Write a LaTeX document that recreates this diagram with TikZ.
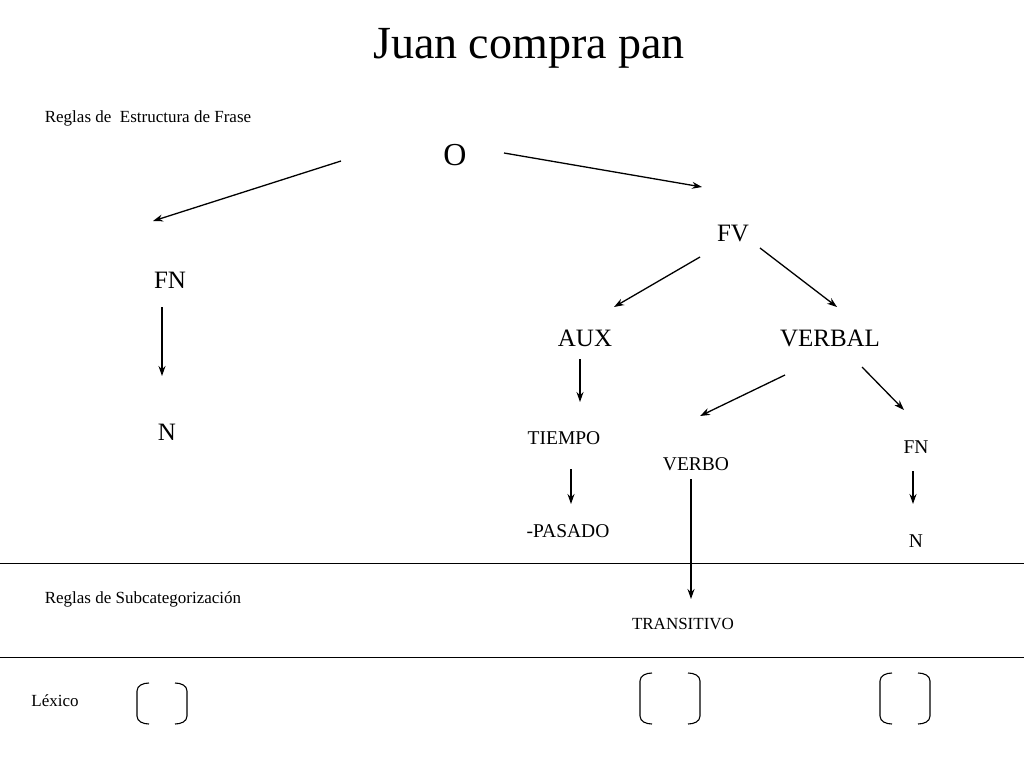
\documentclass[tikz,border=0pt]{standalone}
\usepackage{fontspec}
\setmainfont{Liberation Serif}
\usetikzlibrary{arrows.meta}
\begin{document}
\begin{tikzpicture}[x=1pt,y=-1pt,
  arr/.style={-{Stealth[length=10pt,width=7pt]},line width=1.3pt},
  big/.style={font=\fontsize{25}{27}\selectfont},
  mid/.style={font=\fontsize{19.5}{21}\selectfont},
  sml/.style={font=\fontsize{17}{19}\selectfont},
  brk/.style={line width=1.1pt}]
\useasboundingbox (0,0) rectangle (1024,768);
\node[font=\fontsize{46}{50}\selectfont] (t) at (529,48) {Juan compra pan};
\node[sml] (r1) at (148,118) {Reglas de\ \ Estructura de Frase};
\node[font=\fontsize{32}{34}\selectfont] (o) at (455,155) {O};
\node[big] (fv) at (733,234) {FV};
\node[big] (fn) at (170,280) {FN};
\node[big] (aux) at (585,338) {AUX};
\node[big] (vb) at (830,338) {VERBAL};
\node[big] (n1) at (167,432) {N};
\node[mid] (ti) at (564,438) {TIEMPO};
\node[mid] (ve) at (696,464) {VERBO};
\node[mid] (fn2) at (916,447) {FN};
\node[mid] (pa) at (568,531) {-PASADO};
\node[mid] (n2) at (916,541) {N};
\node[sml] (r2) at (143,599) {Reglas de Subcategorización};
\node[sml] (tr) at (683,624) {TRANSITIVO};
\node[sml] (lx) at (55,701) {Léxico};
\coordinate (a1) at (341,161); \coordinate (b1) at (153,221);
\coordinate (a2) at (504,153); \coordinate (b2) at (702,187);
\coordinate (a3) at (700,257); \coordinate (b3) at (614,307);
\coordinate (a4) at (760,248); \coordinate (b4) at (837,307);
\coordinate (a5) at (162,307); \coordinate (b5) at (162,376);
\coordinate (a6) at (580,359); \coordinate (b6) at (580,402);
\coordinate (a7) at (785,375); \coordinate (b7) at (700,416);
\coordinate (a8) at (862,367); \coordinate (b8) at (904,410);
\coordinate (a9) at (571,469); \coordinate (b9) at (571,504);
\coordinate (a10) at (913,471); \coordinate (b10) at (913,504);
\coordinate (a11) at (691,479); \coordinate (b11) at (691,599);
\foreach \i in {1,...,11} \draw[arr] (a\i) -- (b\i);
\draw[line width=1pt] (0,563) -- (1024,563);
\draw[line width=1pt] (0,657) -- (1024,657);
\foreach \x/\w/\ya/\yb in {137/50/683/724, 640/60/673/724, 880/50/673/724}{
  \draw[brk] (\x+12,\ya) to[out=180,in=90] (\x,\ya+8) -- (\x,\yb-8) to[out=-90,in=180] (\x+12,\yb);
  \draw[brk] (\x+\w-12,\ya) to[out=0,in=90] (\x+\w,\ya+8) -- (\x+\w,\yb-8) to[out=-90,in=0] (\x+\w-12,\yb);
}
\end{tikzpicture}
\end{document}
